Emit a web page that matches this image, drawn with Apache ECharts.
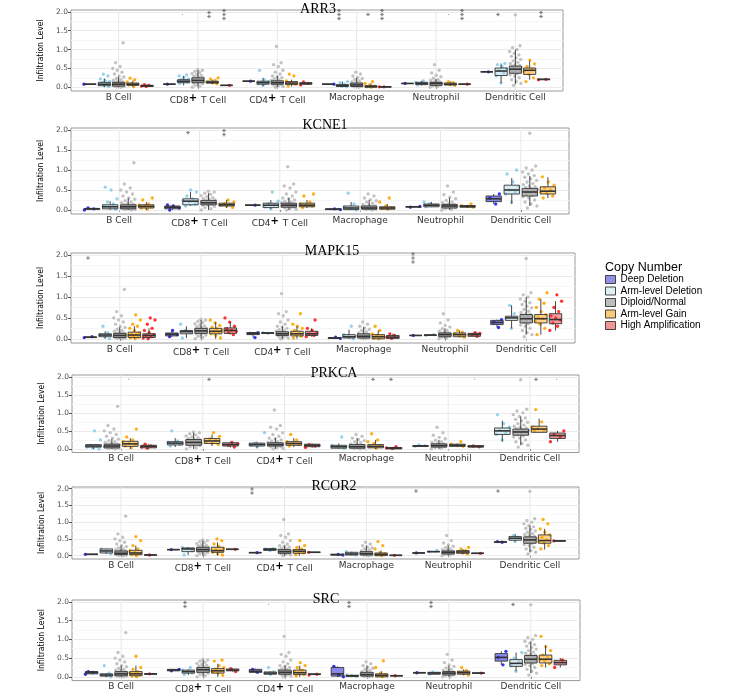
<!DOCTYPE html>
<html>
<head>
<meta charset="utf-8">
<script src="https://cdn.jsdelivr.net/npm/echarts@6/dist/echarts.min.js"></script>
<style>
html, body { margin: 0; padding: 0; background: #fff; }
#chart { width: 743px; height: 699px; }
</style>
</head>
<body>
<div id="chart"></div>
<script>
const genes = ['ARR3', 'KCNE1', 'MAPK15', 'PRKCA', 'RCOR2', 'SRC'];
const cellTypes = ['B Cell', 'CD8+ T Cell', 'CD4+ T Cell', 'Macrophage', 'Neutrophil', 'Dendritic Cell'];
const groups = ['Deep Deletion', 'Arm-level Deletion', 'Diploid/Normal', 'Arm-level Gain', 'High Amplification'];
const yTicks = [0, 0.5, 1, 1.5, 2];

// diploid/normal samples look the same in every panel: one cloud per cell type
const diploidPts = [
  [0, 0.01, 0.02, 0.03, 0.03, 0.04, 0.05, 0.05, 0.06, 0.07, 0.07, 0.08, 0.08, 0.09, 0.1, 0.11, 0.12, 0.13, 0.14, 0.16, 0.18, 0.2, 0.23, 0.27, 0.3, 0.35, 0.4, 0.45, 0.5, 0.55, 0.65, 1.18],
  [0, 0.03, 0.06, 0.09, 0.11, 0.12, 0.14, 0.15, 0.16, 0.17, 0.18, 0.19, 0.2, 0.21, 0.22, 0.24, 0.25, 0.27, 0.29, 0.31, 0.33, 0.36, 0.39, 0.42, 0.45, 0.47],
  [0, 0.02, 0.04, 0.06, 0.07, 0.08, 0.09, 0.1, 0.11, 0.12, 0.13, 0.14, 0.15, 0.16, 0.18, 0.2, 0.22, 0.25, 0.28, 0.3, 0.35, 0.4, 0.45, 0.55, 0.6, 0.65, 1.08],
  [0, 0.01, 0.02, 0.03, 0.04, 0.05, 0.06, 0.07, 0.08, 0.09, 0.1, 0.12, 0.14, 0.17, 0.2, 0.23, 0.26, 0.3, 0.35, 0.4],
  [0, 0.02, 0.04, 0.06, 0.07, 0.08, 0.09, 0.1, 0.11, 0.12, 0.13, 0.14, 0.16, 0.18, 0.2, 0.24, 0.28, 0.32, 0.38, 0.45, 0.6],
  [0.05, 0.1, 0.15, 0.2, 0.25, 0.3, 0.33, 0.36, 0.39, 0.42, 0.44, 0.46, 0.48, 0.5, 0.52, 0.54, 0.56, 0.58, 0.6, 0.63, 0.66, 0.7, 0.74, 0.78, 0.82, 0.86, 0.9, 0.95, 1.0, 1.05, 1.1, 1.92]
];

// box stats per group, per cell type: [lower whisker, q1, median, q3, upper whisker]
const boxARR3 = [
  [[0.08,0.08,0.08,0.08,0.08],[0.08,0.08,0.08,0.08,0.08],[0.16,0.16,0.16,0.16,0.16],[0.08,0.08,0.08,0.08,0.08],[0.1,0.1,0.1,0.1,0.1],[0.41,0.41,0.41,0.41,0.41]],
  [[0,0.04,0.08,0.13,0.23],[0.05,0.12,0.16,0.2,0.3],[0.03,0.08,0.12,0.16,0.25],[0,0.02,0.04,0.07,0.15],[0.04,0.07,0.1,0.13,0.17],[0.11,0.31,0.43,0.51,0.63]],
  [[0,0.03,0.08,0.13,0.28],[0,0.12,0.18,0.25,0.45],[0,0.08,0.12,0.17,0.3],[0,0.02,0.06,0.11,0.25],[0,0.05,0.1,0.13,0.22],[0.08,0.37,0.48,0.56,1.0]],
  [[0.01,0.05,0.08,0.11,0.18],[0.08,0.11,0.13,0.16,0.2],[0.02,0.07,0.11,0.15,0.2],[0,0,0.02,0.04,0.1],[0.04,0.06,0.08,0.11,0.15],[0.2,0.34,0.45,0.51,0.7]],
  [[0.02,0.02,0.04,0.05,0.07],[0.05,0.05,0.05,0.05,0.05],[0.06,0.08,0.1,0.12,0.14],[0.01,0.01,0.01,0.01,0.01],[0.08,0.08,0.08,0.08,0.08],[0.2,0.2,0.21,0.21,0.22]]
];
const ptsARR3 = [
  [[0.08],[0.08],[0.16],[0.08],[0.1],[0.41]],
  [[0.02,0.05,0.07,0.1,0.12,0.15,0.18,0.22,0.3,0.35],[0.1,0.13,0.15,0.16,0.18,0.2,0.22,0.26,0.3,0.33],[0.05,0.09,0.11,0.13,0.15,0.2,0.45],[0.01,0.03,0.05,0.08,0.12,0.15],[0.06,0.09,0.11,0.13,0.17],[0.11,0.3,0.38,0.45,0.5,0.55,0.6,0.63]],
  null,
  [[0.02,0.06,0.08,0.1,0.14,0.2,0.24],[0.09,0.12,0.14,0.18,0.22,0.25],[0.03,0.08,0.12,0.17,0.3,0.35],[0,0.01,0.03,0.06,0.1,0.15],[0.05,0.07,0.09,0.12,0.15],[0.15,0.25,0.35,0.42,0.48,0.55,0.62,0.72]],
  [[0.02,0.03,0.05,0.07],[0.05],[0.06,0.1,0.14],[0.01,0.01],[0.08],[0.2,0.21]]
];
const sigARR3 = [[1,1,'·'],[1,3,'**'],[1,4,'***'],[3,1,'***'],[3,3,'*'],[3,4,'***'],[4,3,'·'],[4,4,'***'],[5,1,'*'],[5,4,'**']];

const boxKCNE1 = [
  [[0,0.02,0.03,0.04,0.05],[0,0.03,0.07,0.1,0.13],[0.12,0.12,0.12,0.12,0.12],[0.01,0.01,0.02,0.03,0.04],[0.07,0.08,0.08,0.08,0.09],[0.15,0.21,0.28,0.35,0.4]],
  [[0,0.03,0.08,0.13,0.22],[0.1,0.13,0.22,0.28,0.45],[0.02,0.06,0.12,0.17,0.25],[0,0.01,0.05,0.1,0.2],[0.07,0.08,0.12,0.15,0.2],[0.15,0.4,0.5,0.62,0.8]],
  [[0,0.03,0.08,0.13,0.3],[0,0.13,0.18,0.24,0.42],[0,0.07,0.12,0.17,0.3],[0,0.02,0.05,0.1,0.25],[0,0.05,0.1,0.14,0.3],[0.1,0.35,0.45,0.54,0.85]],
  [[0,0.05,0.09,0.13,0.2],[0.05,0.1,0.13,0.17,0.25],[0.05,0.08,0.12,0.17,0.25],[0,0.02,0.05,0.08,0.15],[0.06,0.07,0.09,0.11,0.13],[0.3,0.4,0.47,0.58,0.82]],
  null
];
const ptsKCNE1 = [
  [[0,0.03,0.05],[0,0.05,0.1,0.13],[0.12],[0.01,0.03],[0.07,0.09],[0.15,0.3,0.4]],
  [[0.02,0.06,0.1,0.15,0.2,0.28,0.5,0.57],[0.1,0.15,0.2,0.24,0.28,0.35,0.45,0.5],[0.03,0.08,0.12,0.16,0.22,0.45],[0,0.04,0.08,0.15,0.42],[0.08,0.12,0.16,0.2],[0.2,0.4,0.45,0.5,0.58,0.7,0.9,1.0]],
  null,
  [[0.02,0.05,0.08,0.1,0.12,0.15,0.25,0.3],[0.06,0.1,0.12,0.14,0.16,0.2,0.25],[0.06,0.1,0.12,0.15,0.2,0.35,0.4],[0.02,0.04,0.06,0.1,0.2,0.3],[0.07,0.09,0.11,0.15],[0.3,0.35,0.42,0.45,0.5,0.55,0.62,0.7,0.83]],
  null
];
const sigKCNE1 = [[1,1,'*'],[1,3,'**']];

const boxMAPK15 = [
  [[0.03,0.03,0.04,0.04,0.05],[0.05,0.07,0.11,0.14,0.18],[0.03,0.1,0.13,0.15,0.15],[0.01,0.01,0.02,0.03,0.04],[0.08,0.08,0.08,0.08,0.08],[0.27,0.34,0.39,0.44,0.46]],
  [[0,0.05,0.09,0.12,0.18],[0.02,0.12,0.17,0.2,0.3],[0.13,0.13,0.14,0.14,0.15],[0,0.02,0.05,0.1,0.22],[0.07,0.08,0.09,0.09,0.1],[0.25,0.44,0.5,0.54,0.8]],
  [[0,0.03,0.08,0.13,0.28],[0,0.13,0.19,0.25,0.45],[0,0.08,0.12,0.17,0.3],[0,0.02,0.06,0.12,0.28],[0,0.05,0.1,0.14,0.25],[0.1,0.38,0.48,0.58,1.0]],
  [[0,0.03,0.09,0.16,0.3],[0,0.12,0.18,0.25,0.4],[0,0.07,0.12,0.18,0.3],[0,0,0.05,0.1,0.2],[0.03,0.05,0.1,0.14,0.2],[0.1,0.38,0.48,0.58,0.95]],
  [[0,0.03,0.08,0.12,0.25],[0.1,0.13,0.2,0.26,0.4],[0.05,0.08,0.12,0.18,0.25],[0.01,0.01,0.04,0.08,0.12],[0.06,0.06,0.1,0.13,0.15],[0.2,0.36,0.46,0.6,0.9]]
];
const ptsMAPK15 = [
  [[0.03,0.05],[0.05,0.1,0.2],[0.03,0.13,0.15],[0.01,0.04],[0.08],[0.27,0.4,0.46]],
  [[0,0.05,0.1,0.15,0.3],[0.02,0.15,0.2,0.35],[0.13,0.15],[0,0.05,0.1,0.3],[0.08,0.1],[0.25,0.5,0.6,0.8]],
  null,
  [[0,0.02,0.04,0.06,0.08,0.1,0.12,0.15,0.2,0.25,0.3,0.35,0.45,0.57],[0.02,0.08,0.12,0.15,0.18,0.2,0.24,0.28,0.32,0.38,0.45],[0.02,0.06,0.1,0.13,0.16,0.2,0.25,0.3,0.35,0.6],[0,0.02,0.05,0.08,0.12,0.2,0.3],[0.04,0.08,0.12,0.16,0.2],[0.1,0.25,0.35,0.42,0.48,0.52,0.58,0.65,0.75,0.85,0.95,1.1]],
  [[0,0.02,0.05,0.08,0.1,0.15,0.2,0.25,0.35,0.45,0.5],[0.1,0.15,0.18,0.2,0.24,0.3,0.4,0.5],[0.05,0.08,0.12,0.15,0.2,0.25,0.45],[0.01,0.04,0.08,0.12],[0.06,0.1,0.13,0.15],[0.2,0.3,0.38,0.45,0.5,0.55,0.65,0.75,0.9,1.05]]
];
const sigMAPK15 = [[0,0,'*'],[4,0,'***']];

const boxPRKCA = [
  null,
  [[0,0.05,0.08,0.12,0.13],[0.05,0.11,0.16,0.2,0.3],[0.03,0.08,0.12,0.16,0.2],[0,0.02,0.06,0.1,0.15],[0.06,0.07,0.08,0.09,0.1],[0.2,0.4,0.5,0.58,0.78]],
  [[0,0.03,0.08,0.13,0.28],[0,0.1,0.18,0.26,0.45],[0,0.08,0.12,0.17,0.3],[0,0.02,0.06,0.12,0.3],[0,0.05,0.09,0.14,0.25],[0.1,0.38,0.47,0.55,0.9]],
  [[0,0.07,0.14,0.21,0.3],[0.08,0.15,0.22,0.29,0.4],[0.05,0.1,0.15,0.2,0.3],[0,0.03,0.07,0.12,0.25],[0.05,0.07,0.1,0.13,0.15],[0.45,0.46,0.55,0.63,0.84]],
  [[0.01,0.03,0.07,0.1,0.13],[0.04,0.08,0.12,0.17,0.2],[0.03,0.06,0.1,0.13,0.15],[0,0,0.02,0.04,0.06],[0.05,0.05,0.07,0.09,0.09],[0.2,0.29,0.37,0.44,0.5]]
];
const ptsPRKCA = [
  null,
  [[0,0.02,0.05,0.08,0.1,0.25,0.5],[0.08,0.12,0.15,0.18,0.22,0.5],[0.05,0.1,0.13,0.16,0.45],[0.02,0.06,0.1,0.33],[0.07,0.09,0.11],[0.25,0.4,0.45,0.52,0.6,0.7,0.95]],
  null,
  [[0.03,0.08,0.12,0.15,0.2,0.25,0.33,0.55],[0.12,0.16,0.2,0.24,0.28,0.35,0.45],[0.08,0.12,0.16,0.2,0.25,0.4],[0.02,0.06,0.1,0.15,0.2,0.25,0.42],[0.07,0.1,0.13,0.2],[0.5,0.52,0.56,0.6,0.75,1.09]],
  [[0.02,0.05,0.08,0.13],[0.05,0.1,0.14,0.18],[0.04,0.08,0.12],[0.01,0.03,0.06],[0.06,0.08],[0.2,0.33,0.4,0.5]]
];
const sigPRKCA = [[0,3,'·'],[1,3,'*'],[3,3,'*'],[3,4,'*'],[4,4,'·'],[5,3,'*'],[5,4,'·']];

const boxRCOR2 = [
  [[0.04,0.04,0.04,0.04,0.04],[0.18,0.18,0.18,0.18,0.18],[0.09,0.09,0.09,0.09,0.09],[0.02,0.02,0.03,0.04,0.04],[0.08,0.08,0.08,0.08,0.08],[0.4,0.4,0.41,0.41,0.42]],
  [[0.05,0.08,0.14,0.2,0.21],[0.02,0.12,0.2,0.23,0.25],[0.14,0.16,0.18,0.21,0.22],[0.01,0.02,0.05,0.1,0.12],[0.12,0.12,0.12,0.12,0.13],[0.42,0.46,0.52,0.57,0.65]],
  [[0,0.03,0.07,0.14,0.3],[0,0.12,0.18,0.25,0.45],[0,0.07,0.12,0.18,0.3],[0,0.02,0.06,0.12,0.3],[0,0.05,0.1,0.14,0.3],[0.1,0.37,0.47,0.56,0.9]],
  [[0,0.03,0.08,0.16,0.3],[0,0.1,0.15,0.25,0.4],[0,0.07,0.13,0.18,0.3],[0,0,0.04,0.08,0.15],[0.04,0.07,0.11,0.15,0.2],[0.18,0.37,0.45,0.62,0.8]],
  [[0.02,0.02,0.02,0.02,0.02],[0.19,0.19,0.19,0.19,0.19],[0.1,0.1,0.1,0.1,0.1],[0.01,0.01,0.01,0.01,0.01],[0.07,0.07,0.07,0.07,0.07],[0.44,0.44,0.44,0.44,0.44]]
];
const ptsRCOR2 = [
  [[0.04],[0.18],[0.09],[0.02,0.04],[0.08],[0.4,0.42]],
  [[0.06,0.12,0.2],[0.02,0.15,0.2,0.25],[0.15,0.2,0.22],[0.02,0.06,0.12],[0.12,0.16],[0.42,0.5,0.55,0.6]],
  null,
  [[0,0.03,0.06,0.1,0.15,0.2,0.3,0.45,0.57],[0.02,0.06,0.1,0.14,0.18,0.22,0.28,0.35,0.45,0.5],[0.03,0.08,0.12,0.16,0.2,0.25,0.3,0.45],[0,0.03,0.06,0.1,0.2,0.3,0.42],[0.05,0.09,0.12,0.16,0.2,0.25],[0.2,0.3,0.38,0.42,0.48,0.55,0.62,0.7,0.8,0.95,1.08]],
  [[0.02],[0.19],[0.1],[0.01],[0.07],[0.44]]
];
const sigRCOR2 = [[2,0,'**'],[4,0,'*'],[5,0,'*']];

const boxSRC = [
  [[0.07,0.08,0.12,0.14,0.15],[0.16,0.16,0.18,0.2,0.2],[0.1,0.12,0.15,0.2,0.22],[0,0.02,0.08,0.25,0.28],[0.11,0.11,0.11,0.11,0.11],[0.32,0.42,0.52,0.62,0.68]],
  [[0,0.02,0.05,0.08,0.1],[0.05,0.1,0.14,0.18,0.2],[0.05,0.07,0.1,0.13,0.15],[0.01,0.01,0.03,0.04,0.05],[0.05,0.07,0.1,0.12,0.13],[0.15,0.28,0.36,0.46,0.65]],
  [[0,0.03,0.08,0.14,0.3],[0,0.12,0.19,0.25,0.45],[0,0.07,0.12,0.18,0.3],[0,0.02,0.06,0.12,0.3],[0,0.05,0.1,0.14,0.3],[0.1,0.37,0.47,0.57,0.95]],
  [[0,0.03,0.08,0.14,0.3],[0,0.1,0.16,0.22,0.35],[0,0.06,0.11,0.18,0.3],[0,0,0.04,0.08,0.15],[0.04,0.07,0.11,0.15,0.2],[0.25,0.37,0.47,0.58,0.85]],
  [[0.07,0.07,0.08,0.08,0.09],[0.14,0.16,0.18,0.21,0.22],[0.05,0.07,0.07,0.07,0.08],[0.03,0.03,0.03,0.03,0.03],[0.1,0.1,0.1,0.1,0.1],[0.25,0.32,0.38,0.44,0.5]]
];
const ptsSRC = [
  [[0.07,0.12,0.14],[0.16,0.2],[0.12,0.2],[0,0.05,0.28],[0.11],[0.32,0.52,0.68]],
  [[0,0.03,0.06,0.1,0.3],[0.06,0.1,0.14,0.18,0.25],[0.06,0.1,0.13,0.25],[0.01,0.03,0.05],[0.07,0.1,0.13],[0.15,0.3,0.4,0.5,0.65]],
  null,
  [[0,0.02,0.05,0.08,0.1,0.14,0.2,0.25,0.55],[0.04,0.1,0.13,0.16,0.2,0.25,0.3,0.42,0.45],[0.02,0.06,0.1,0.14,0.18,0.25,0.3,0.38],[0,0.03,0.06,0.1,0.25,0.43],[0.05,0.09,0.12,0.17,0.25],[0.3,0.35,0.42,0.47,0.52,0.58,0.7,0.8,1.08]],
  [[0.08],[0.14,0.22],[0.05,0.07],[0.03],[0.1],[0.25,0.45]]
];
const sigSRC = [[1,1,'**'],[2,1,'·'],[3,1,'**'],[4,1,'**'],[5,1,'*']];

const allBoxes = [boxARR3, boxKCNE1, boxMAPK15, boxPRKCA, boxRCOR2, boxSRC];
const allPts = [ptsARR3, ptsKCNE1, ptsMAPK15, ptsPRKCA, ptsRCOR2, ptsSRC];
const allSig = [sigARR3, sigKCNE1, sigMAPK15, sigPRKCA, sigRCOR2, sigSRC];

// layout
const gridRects = [
  { left: 71, top: 10, width: 492, height: 81 },
  { left: 71, top: 128, width: 498, height: 86 },
  { left: 71, top: 253, width: 504, height: 90 },
  { left: 72, top: 375, width: 507, height: 77.5 },
  { left: 72, top: 487, width: 507, height: 72 },
  { left: 72, top: 600, width: 508, height: 80.6 }
];
const titleX = [313, 320, 327, 329, 329, 321];
const titleY = [-3, 113, 239, 361, 474, 587];

const pointColors = ['#1c1cf0', '#87ceeb', '#bdbdbd', '#ffa500', '#ff1a1a'];
const boxFills = ['rgba(40,40,220,0.55)', 'rgba(173,216,230,0.45)', 'rgba(150,150,150,0.6)', 'rgba(255,170,30,0.5)', 'rgba(235,60,60,0.5)'];
const legendFills = ['#8585e0', '#d8eef4', '#b5b5b5', '#f6c768', '#ef8a8a'];

const sansFont = "'DejaVu Sans', Verdana, sans-serif";
const jit = k => ((k * 0.6180339) % 1) - 0.5;

function boxRenderer(widthUnits, fill) {
  return function (params, api) {
    const x = api.value(0);
    const p = [1, 2, 3, 4, 5].map(d => api.coord([x, api.value(d)]));
    const w = api.size([widthUnits, 0])[0];
    const cx = p[0][0];
    const stroke = '#333';
    return {
      type: 'group',
      children: [
        { type: 'line', shape: { x1: cx, y1: p[0][1], x2: cx, y2: p[1][1] }, style: { stroke, lineWidth: 0.9 } },
        { type: 'line', shape: { x1: cx, y1: p[3][1], x2: cx, y2: p[4][1] }, style: { stroke, lineWidth: 0.9 } },
        { type: 'rect', shape: { x: cx - w / 2, y: p[3][1], width: w, height: p[1][1] - p[3][1] }, style: { fill, stroke, lineWidth: 0.9 } },
        { type: 'line', shape: { x1: cx - w / 2, y1: p[2][1], x2: cx + w / 2, y2: p[2][1] }, style: { stroke, lineWidth: 1.6 } }
      ]
    };
  };
}

function vLineRenderer(params, api) {
  const a = api.coord([api.value(0), -0.1]);
  const b = api.coord([api.value(0), 2.05]);
  return { type: 'line', shape: { x1: a[0], y1: a[1], x2: b[0], y2: b[1] }, style: { stroke: '#e8e8e8', lineWidth: 1 } };
}

const grid = [], xAxis = [], yAxis = [], title = [], series = [];

genes.forEach((gene, p) => {
  grid.push(Object.assign({ show: true, borderColor: '#9a9a9a', borderWidth: 1, backgroundColor: 'transparent' }, gridRects[p]));
  title.push({ text: gene, left: titleX[p], top: titleY[p], textAlign: 'center',
    textStyle: { fontFamily: "'Liberation Serif', 'Times New Roman', serif", fontSize: 14, fontWeight: 'normal', color: '#000' } });
  xAxis.push({
    gridIndex: p, type: 'value', min: 0.4, max: 6.6,
    axisLine: { show: false }, splitLine: { show: false },
    axisTick: { show: true, customValues: [1, 2, 3, 4, 5, 6], length: 2, lineStyle: { color: '#555' } },
    axisLabel: {
      customValues: [1, 2, 3, 4, 5, 6], margin: 2, fontSize: 9, color: '#333', fontFamily: sansFont,
      formatter: v => cellTypes[Math.round(v) - 1].replace('+', '{s|+}'),
      rich: { s: { fontSize: 10, fontWeight: 'bold', color: '#000', fontFamily: sansFont, padding: [0, 1, 5, 0] } }
    }
  });
  yAxis.push({
    gridIndex: p, type: 'value', min: -0.1, max: 2.05, splitNumber: 4,
    name: 'Infiltration Level', nameLocation: 'middle', nameGap: 26,
    nameTextStyle: { fontFamily: "'Liberation Sans Narrow', 'DejaVu Sans Condensed', sans-serif", fontSize: 8.5, color: '#000' },
    axisLine: { show: false },
    axisTick: { show: true, customValues: yTicks, length: 3, lineStyle: { color: '#555' } },
    axisLabel: { customValues: yTicks, formatter: v => v.toFixed(1), fontSize: 7.5, color: '#4d4d4d', margin: 3, fontFamily: sansFont },
    splitLine: { show: true, lineStyle: { color: '#ebebeb' } },
    minorTick: { show: false, splitNumber: 2 },
    minorSplitLine: { show: true, lineStyle: { color: '#f6f6f6' } }
  });

  // vertical grid lines at each cell type
  series.push({ type: 'custom', xAxisIndex: p, yAxisIndex: p, silent: true, z: 1,
    data: [1, 2, 3, 4, 5, 6], encode: { x: 0 }, renderItem: vLineRenderer });

  const box = allBoxes[p], pts = allPts[p];
  const present = [0, 1, 2, 3, 4].filter(g => box[g]);
  const n = present.length, slot = 0.9 / n;
  const offset = g => (present.indexOf(g) - (n - 1) / 2) * slot;

  present.forEach(g => {
    const src = g === 2 ? diploidPts : pts[g];
    const data = [];
    src.forEach((vals, c) => vals.forEach((v, k) => {
      data.push([c + 1 + offset(g) + jit(k + c * 7 + g * 3) * slot * 0.85, v]);
    }));
    series.push({ type: 'scatter', name: groups[g], xAxisIndex: p, yAxisIndex: p, silent: true, z: 2,
      symbolSize: g === 2 ? 3.4 : 3.3, itemStyle: { color: pointColors[g], opacity: 0.9 }, data });
    series.push({ type: 'custom', name: groups[g], xAxisIndex: p, yAxisIndex: p, silent: true, z: 3,
      itemStyle: { color: legendFills[g] },
      encode: { x: 0, y: [1, 2, 3, 4, 5] },
      data: box[g].map((s, c) => [c + 1 + offset(g)].concat(s)),
      renderItem: boxRenderer(slot * 0.85, boxFills[g]) });
  });

  series.push({ type: 'scatter', xAxisIndex: p, yAxisIndex: p, silent: true, z: 4,
    symbolSize: 1, itemStyle: { color: 'rgba(0,0,0,0)' },
    label: { show: true, position: 'inside', formatter: '{b}', rotate: 90, fontSize: 8, color: '#222', fontFamily: sansFont },
    data: allSig[p].map(([c, g, txt]) => ({ name: txt, value: [c + 1 + offset(g), 1.93],
      label: txt === '·' ? { color: '#888' } : undefined }))
  });
});

title.push({ text: 'Copy Number', left: 600, top: 256,
  textStyle: { fontFamily: "'Liberation Sans', Arial, sans-serif", fontSize: 12.5, fontWeight: 'normal', color: '#000' } });

const chart = echarts.init(document.getElementById('chart'), null, { renderer: 'canvas' });
chart.setOption({
  backgroundColor: '#fff',
  animation: false,
  title,
  grid, xAxis, yAxis,
  legend: {
    left: 600, top: 269, orient: 'vertical', selectedMode: false,
    itemWidth: 10, itemHeight: 8, itemGap: 0.5,
    textStyle: { fontFamily: "'Liberation Sans', Arial, sans-serif", fontSize: 10, color: '#000', lineHeight: 11 },
    data: groups.map((g, i) => ({ name: g, icon: 'rect', itemStyle: { color: legendFills[i], borderColor: '#333', borderWidth: 1 } }))
  },
  series
});
</script>
</body>
</html>
